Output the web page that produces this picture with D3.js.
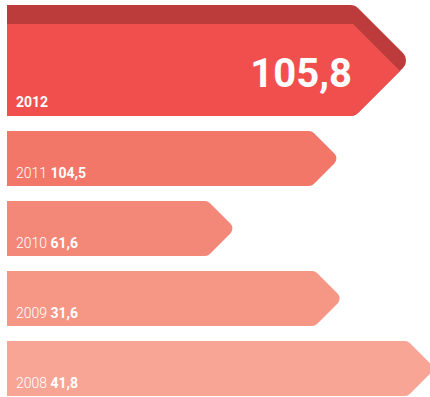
<!DOCTYPE html>
<html><head><meta charset="utf-8">
<script src="https://cdn.jsdelivr.net/npm/d3@7"></script>
<style>body{margin:0;background:#fff}svg{display:block}text{font-family:Roboto,"Open Sans",sans-serif}</style>
</head><body>
<svg id="c" width="430" height="397"></svg>
<script>
const years = ["2012", "2011", "2010", "2009", "2008"];
const values = ["105,8", "104,5", "61,6", "31,6", "41,8"];
// relative bar lengths as drawn in the picture (not proportional to values)
const barLength = [87, 76.2, 50.2, 77, 100.2];
const colors = ["#F04F4E", "#F27768", "#F48878", "#F69684", "#F8A595"];
const darkColor = "#BC3C3B";

const svg = d3.select("#c");
const x = d3.scaleLinear().domain([0, 100]).range([7, 407]);
const y = d3.scaleBand().domain(years.slice(1)).range([123.5, 403.5])
  .paddingInner(15/70).paddingOuter(7.5/70);

function arrow(x0, y0, x1, y1, r) {
  const mid = (y0 + y1) / 2, tip = x1 + (y1 - y0) / 2;
  const p = d3.path();
  p.moveTo(x0, y0);
  p.arcTo(x1, y0, tip, mid, r);
  p.arcTo(tip, mid, x1, y1, r);
  p.arcTo(x1, y1, x0, y1, r);
  p.lineTo(x0, y1);
  p.closePath();
  return p.toString();
}

// top highlighted bar
const top0 = 5, top1 = 116, band = 19;
const xe0 = x(barLength[0]);
const defs = svg.append("defs");
defs.append("clipPath").attr("id", "clip0").append("path").attr("d", arrow(x(0), top0, xe0, top1, 11));
svg.append("path").attr("d", arrow(x(0), top0, xe0, top1, 11)).attr("fill", darkColor);
svg.append("path").attr("clip-path", "url(#clip0)")
  .attr("d", `M${x(0)},${top0 + band}L${xe0 - 2},${top0 + band}L${xe0 - 2 + 200},${top0 + band + 200}L${x(0)},${top0 + band + 200}Z`)
  .attr("fill", colors[0]);
svg.append("text").attr("x", 16).attr("y", 107).attr("fill", "#fff")
  .attr("font-size", 14).attr("font-weight", 700).text(years[0]);
svg.append("text").attr("x", 352).attr("y", 87).attr("fill", "#fff").attr("text-anchor", "end")
  .attr("font-size", 40).attr("font-weight", 700).text(values[0]);

// other bars
const rest = years.slice(1).map((yr, i) => ({yr, v: values[i + 1], len: barLength[i + 1], c: colors[i + 1]}));
const g = svg.selectAll("g.bar").data(rest).join("g").attr("class", "bar");
g.append("path").attr("d", d => arrow(x(0), y(d.yr), x(d.len), y(d.yr) + y.bandwidth(), 7)).attr("fill", d => d.c);
const t = g.append("text").attr("x", 16).attr("y", d => y(d.yr) + 47).attr("fill", "#fff").attr("font-size", 14);
t.append("tspan").attr("font-weight", 300).text(d => d.yr + " ");
t.append("tspan").attr("font-weight", 700).text(d => d.v);
</script>
</body></html>
